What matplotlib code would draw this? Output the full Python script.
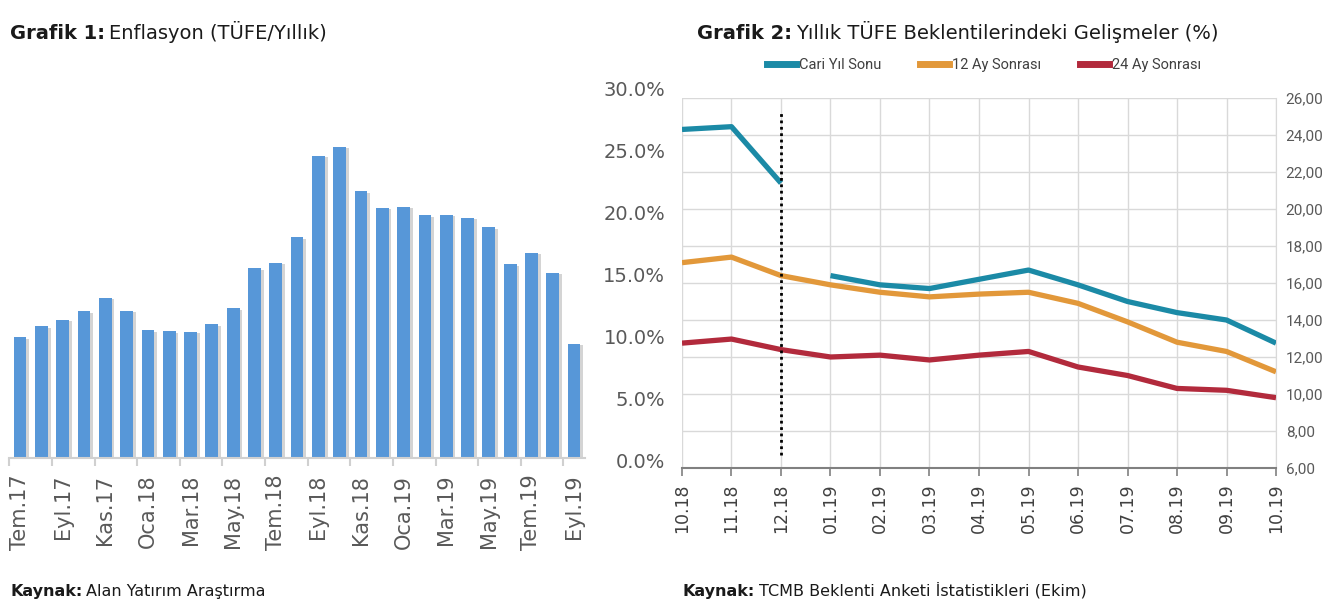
import numpy as np
import matplotlib
matplotlib.use("Agg")
import matplotlib.pyplot as plt
import matplotlib.patheffects as pe
from matplotlib.lines import Line2D

# Grafik 1 - yillik TUFE
months = ["Tem.17", "Ağu.17", "Eyl.17", "Eki.17", "Kas.17", "Ara.17",
          "Oca.18", "Şub.18", "Mar.18", "Nis.18", "May.18", "Haz.18",
          "Tem.18", "Ağu.18", "Eyl.18", "Eki.18", "Kas.18", "Ara.18",
          "Oca.19", "Şub.19", "Mar.19", "Nis.19", "May.19", "Haz.19",
          "Tem.19", "Ağu.19", "Eyl.19"]
cpi = [9.79, 10.68, 11.20, 11.90, 12.98, 11.92, 10.35, 10.26, 10.23, 10.85,
       12.15, 15.39, 15.85, 17.90, 24.52, 25.24, 21.62, 20.30, 20.35, 19.67,
       19.71, 19.50, 18.71, 15.72, 16.65, 15.01, 9.26]

# Grafik 2 - beklentiler
survey = ["10.18", "11.18", "12.18", "01.19", "02.19", "03.19", "04.19",
          "05.19", "06.19", "07.19", "08.19", "09.19", "10.19"]
cari_yil = [24.3, 24.45, 21.4, 16.4, 15.9, 15.7, 16.2, 16.7, 15.9, 15.0, 14.4, 14.0, 12.75]
ay12 = [17.1, 17.4, 16.4, 15.9, 15.5, 15.25, 15.4, 15.5, 14.9, 13.9, 12.8, 12.3, 11.2]
ay24 = [12.75, 12.97, 12.4, 12.0, 12.1, 11.84, 12.1, 12.3, 11.46, 11.0, 10.3, 10.2, 9.8]
year_break = 3  # cari yil serisi yeni yila gecerken kopuyor

teal, orange, red = "#1b8aa6", "#e2983a", "#b22a3c"
grey_txt = "#595959"
narrow = ["Roboto", "DejaVu Sans"]

fig = plt.figure(figsize=(13.32, 6.05), dpi=100)
W, H = 1332, 605

# ---- left chart ----
ax1 = fig.add_axes([9.4 / W, 1 - 458 / H, 575.3 / W, 328 / H])
x1 = np.arange(len(months))
bars = ax1.bar(x1, cpi, width=0.6, color="#5797d8", zorder=2)
for b in bars:
    b.set_path_effects([pe.SimplePatchShadow(offset=(2, -1), shadow_rgbFace="#a0a0a0", alpha=0.45),
                        pe.Normal()])
ax1.set_xlim(-0.5, len(months) - 0.5)
ax1.set_ylim(0, 26.6)
ax1.set_yticks([])
for s in ["left", "top", "right"]:
    ax1.spines[s].set_visible(False)
ax1.spines["bottom"].set_color("#d0d0d0")
ax1.spines["bottom"].set_linewidth(1.5)
ax1.set_xticks(x1[::2])
ax1.set_xticklabels(months[::2], rotation=90, fontsize=15, color=grey_txt)
ax1.tick_params(axis="x", which="major", length=0, pad=12)
ax1.set_xticks(np.arange(-0.5, len(months) - 1, 2), minor=True)
ax1.tick_params(axis="x", which="minor", length=6, width=1.5, color="#d0d0d0")

# ---- right chart ----
ax2 = fig.add_axes([682 / W, 1 - 468 / H, 594 / W, 370 / H])
x2 = np.arange(len(survey))
ax2.plot(x2[:year_break], cari_yil[:year_break], color=teal, lw=3.8, solid_capstyle="butt", zorder=3)
ax2.plot(x2[year_break:], cari_yil[year_break:], color=teal, lw=3.8, solid_capstyle="butt", zorder=3)
ax2.plot(x2, ay12, color=orange, lw=3.8, solid_capstyle="butt", zorder=3)
ax2.plot(x2, ay24, color=red, lw=3.8, solid_capstyle="butt", zorder=3)
ax2.vlines(2, 6.7, 25.2, colors="black", linestyles=(0, (1, 1.3)), lw=2, zorder=4)
ax2.set_xlim(0, len(survey) - 1)
ax2.set_ylim(6, 26)
ax2.set_yticks(np.arange(6, 27, 2))
ax2.set_yticklabels([f"{v:.2f}".replace(".", ",") for v in np.arange(6, 27, 2)],
                    family=narrow, fontsize=11, color=grey_txt)
ax2.yaxis.tick_right()
ax2.tick_params(axis="y", length=0, pad=7)
ax2.set_xticks(x2)
ax2.set_xticklabels(survey, rotation=90, fontsize=12.5, color="#404040")
ax2.tick_params(axis="x", length=6, width=1.2, color="#808080", pad=5)
ax2.grid(True, color="#d9d9d9", lw=1, zorder=0)
for s in ["left", "top"]:
    ax2.spines[s].set_visible(False)
ax2.spines["right"].set_color("#d9d9d9")
ax2.spines["bottom"].set_color("#808080")
ax2.spines["bottom"].set_linewidth(1.5)

# percent labels on the left side of grafik 2
ax3 = fig.add_axes([682 / W, 1 - 460 / H, 594 / W, 372 / H], frameon=False)
ax3.set_ylim(0, 30)
ax3.set_yticks(np.arange(0, 31, 5))
ax3.set_yticklabels([f"{v:.1f}%" for v in np.arange(0, 31, 5)], fontsize=14, color=grey_txt)
ax3.tick_params(axis="y", length=0, pad=12)
ax3.set_xticks([])
ax3.patch.set_alpha(0)

handles = [Line2D([], [], color=c, lw=5) for c in (teal, orange, red)]
fig.legend(handles, ["Cari Yıl Sonu", "12 Ay Sonrası", "24 Ay Sonrası"],
           loc="center", bbox_to_anchor=(984 / W, 1 - 65 / H), ncol=3, frameon=False,
           handlelength=2.0, handletextpad=0.25, columnspacing=2.6,
           prop={"family": narrow, "size": 10.5}, labelcolor="#404040")

# ---- titles and sources ----
fig.canvas.draw()
rend = fig.canvas.get_renderer()


def two_part(x, y, bold, rest, size):
    t = fig.text(x, y, bold, fontsize=size, fontweight="bold", va="baseline", color="#1a1a1a")
    bb = t.get_window_extent(rend)
    fig.text(bb.x1 / W + 4 / W, y, rest, fontsize=size, va="baseline", color="#1a1a1a")


two_part(10 / W, 1 - 39 / H, "Grafik 1:", "Enflasyon (TÜFE/Yıllık)", 14)
two_part(697 / W, 1 - 39 / H, "Grafik 2:", "Yıllık TÜFE Beklentilerindeki Gelişmeler (%)", 14)
two_part(10 / W, 1 - 596 / H, "Kaynak:", "Alan Yatırım Araştırma", 11.5)
two_part(683 / W, 1 - 596 / H, "Kaynak:", "TCMB Beklenti Anketi İstatistikleri (Ekim)", 11.5)

fig.savefig("out.png", dpi=100)
